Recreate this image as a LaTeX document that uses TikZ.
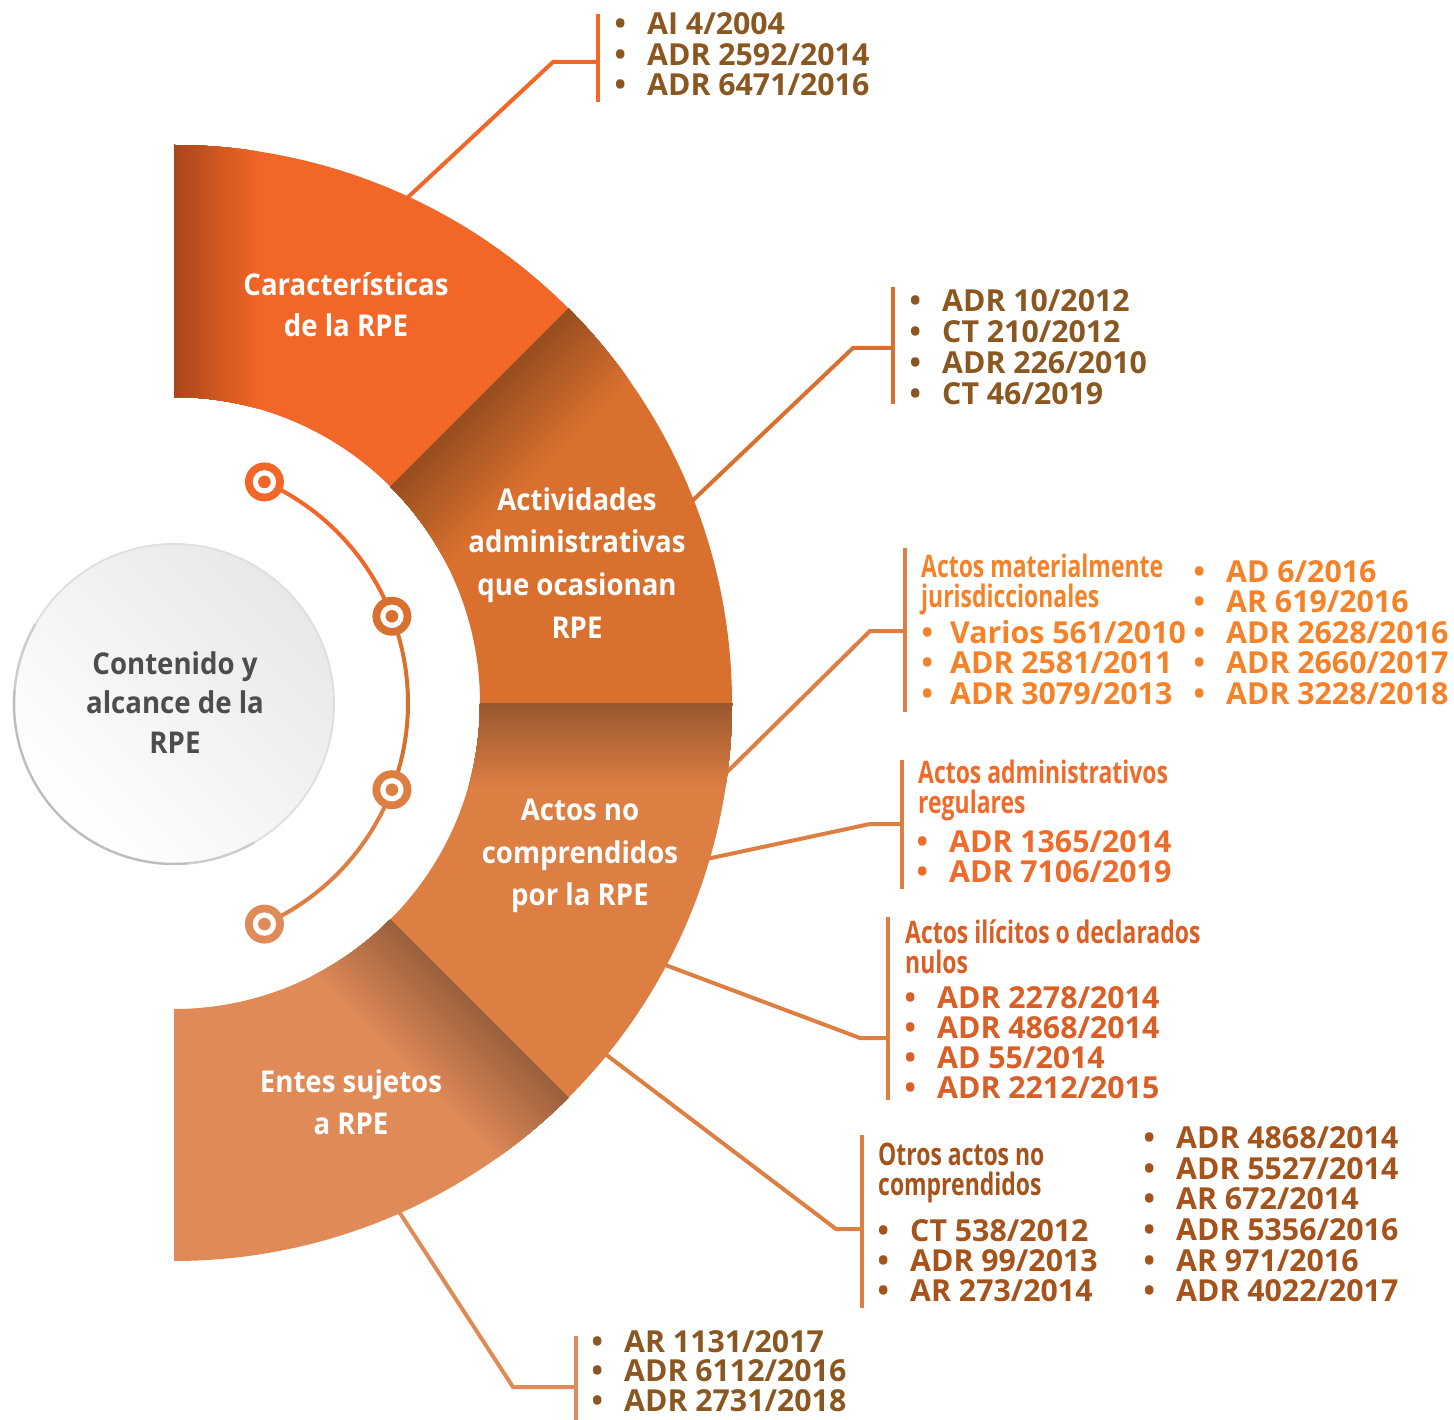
\documentclass[tikz,border=0pt]{standalone}
\usepackage{fontspec}
\setmainfont{Open Sans}
\newfontfamily\condf[FakeStretch=0.74]{Open Sans}
\newfontfamily\labf[FakeStretch=0.92]{Open Sans}
\usetikzlibrary{calc}
\definecolor{cA}{HTML}{F26627}
\definecolor{cB}{HTML}{D9702E}
\definecolor{cC}{HTML}{DD7E43}
\definecolor{cD}{HTML}{E08A58}
\definecolor{brn}{HTML}{8B5721}
\definecolor{orL}{HTML}{F58228}
\definecolor{orM}{HTML}{EE6B2B}
\definecolor{orD}{HTML}{D95F27}
\definecolor{orB}{HTML}{A5521B}
\definecolor{gtx}{HTML}{4D4D4F}
\newcommand\segpath[2]{(#1:558) arc[start angle=#1,end angle=#2,radius=558] -- (#2:306) arc[start angle=#2,end angle=#1,radius=306] -- cycle}
% #1 boundary angle, #2 inward perpendicular angle, #3 width, #4 base colour
\newcommand\shadowband[4]{%
  \foreach \k in {30,29,...,1}{%
    \pgfmathsetmacro\dd{#3*\k/30}%
    \pgfmathsetmacro\pc{100-31*(1-(\k-0.5)/30)}%
    \fill[#4!\pc!black] ($(#2:-3)$) -- ($(#1:620)+(#2:-3)$) -- ($(#1:620)+(#2:\dd)$) -- ($(#2:\dd)$) -- cycle;}}
\newcommand\itm[2][20pt]{\makebox[14pt][c]{\textbullet}\hspace{#1}#2}
\tikzset{
  lab/.style={text=white, font=\labf\bfseries\fontsize{30}{36}\selectfont, anchor=base, inner sep=0},
  ctr/.style={text=gtx, font=\labf\bfseries\fontsize{30}{36}\selectfont, anchor=base, inner sep=0},
  item/.style={anchor=base west, inner sep=0, font=\bfseries\fontsize{30.3}{31}\selectfont},
  head/.style={anchor=base west, inner sep=0, font=\condf\bfseries\fontsize{31}{31}\selectfont},
  conn/.style={line width=4pt, line join=miter},
  bar/.style={line width=4.5pt},
}
\begin{document}
\begin{tikzpicture}[x=1pt,y=1pt]
\useasboundingbox (0,0) rectangle (1454,-1420);
% ---------- connectors ----------
\coordinate (s1) at (405,-200); \coordinate (j1) at (553,-62); \coordinate (b1) at (598,-62);
\coordinate (t1) at (598,-14); \coordinate (u1) at (598,-102);
\coordinate (s2) at (690,-503); \coordinate (j2) at (853,-348); \coordinate (b2) at (893,-348);
\coordinate (t2) at (893,-287); \coordinate (u2) at (893,-404);
\coordinate (s3) at (722,-777); \coordinate (j3) at (870,-631); \coordinate (b3) at (905,-631);
\coordinate (t3) at (905,-548); \coordinate (u3) at (905,-712);
\coordinate (s4) at (702,-860); \coordinate (j4) at (870,-824); \coordinate (b4) at (902,-824);
\coordinate (t4) at (902,-760); \coordinate (u4) at (902,-889);
\coordinate (s5) at (660,-963); \coordinate (j5) at (860,-1038); \coordinate (b5) at (888,-1038);
\coordinate (t5) at (888,-917); \coordinate (u5) at (888,-1100);
\coordinate (s6) at (600,-1050); \coordinate (j6) at (836,-1229); \coordinate (b6) at (862,-1229);
\coordinate (t6) at (862,-1135); \coordinate (u6) at (862,-1308);
\coordinate (s7) at (396,-1207); \coordinate (j7) at (513,-1387); \coordinate (b7) at (576,-1387);
\coordinate (t7) at (576,-1336); \coordinate (u7) at (576,-1420);
\draw[conn, cA] (s1) -- (j1) -- (b1); \draw[bar, cA] (t1) -- (u1);
\draw[conn, cB] (s2) -- (j2) -- (b2); \draw[bar, cB] (t2) -- (u2);
\draw[conn, cC] (s3) -- (j3) -- (b3); \draw[bar, cC] (t3) -- (u3);
\draw[conn, cC] (s4) -- (j4) -- (b4); \draw[bar, cC] (t4) -- (u4);
\draw[conn, cC] (s5) -- (j5) -- (b5); \draw[bar, cC] (t5) -- (u5);
\draw[conn, cC] (s6) -- (j6) -- (b6); \draw[bar, cC] (t6) -- (u6);
\draw[conn, cD] (s7) -- (j7) -- (b7); \draw[bar, cD] (t7) -- (u7);
% ---------- ring segments ----------
\begin{scope}[shift={(174,-703)}]
  \fill[cA] \segpath{90}{45};
  \fill[cB] \segpath{45}{0};
  \fill[cC] \segpath{0}{-45};
  \fill[cD] \segpath{-45}{-90};
  \begin{scope}\clip \segpath{90}{45}; \shadowband{90}{0}{85}{cA} \end{scope}
  \begin{scope}\clip \segpath{45}{0}; \shadowband{45}{-45}{95}{cB} \end{scope}
  \begin{scope}\clip \segpath{0}{-45}; \shadowband{0}{-90}{85}{cC} \end{scope}
  \begin{scope}\clip \segpath{-45}{-90}; \shadowband{-45}{-135}{95}{cD} \end{scope}
\end{scope}
% ---------- centre circle ----------
\shade[top color=black!9, bottom color=white, shading angle=-45] (174,-704) circle[radius=160];
\draw[black!12, line width=2pt] (174,-704) circle[radius=160];
\draw[black!25, line width=2.5pt, opacity=0.6] (174,-704) ++(150:160) arc[start angle=150,end angle=300,radius=160];
\draw[black!30, line width=2pt, opacity=0.6] (174,-704) ++(175:160) arc[start angle=175,end angle=275,radius=160];
% ---------- dotted arc ----------
\coordinate (ac) at (166,-703);
\coordinate (d1) at ($(ac)+(66:242)$);
\coordinate (d2) at ($(ac)+(21:242)$);
\coordinate (d3) at ($(ac)+(-21:242)$);
\coordinate (d4) at ($(ac)+(-66:242)$);
\draw[cA, line width=4pt] (d1) arc[start angle=66,end angle=21,radius=242];
\draw[cB, line width=4pt] (d2) arc[start angle=21,end angle=-21,radius=242];
\draw[cC, line width=4pt] (d3) arc[start angle=-21,end angle=-66,radius=242];
\foreach \p/\c in {d1/cA, d2/cB, d3/cC, d4/cD}{
  \fill[\c] (\p) circle[radius=19.5];
  \fill[white] (\p) circle[radius=11.7];
  \fill[\c] (\p) circle[radius=6.3];
}
% ---------- segment labels ----------
\node[lab] (g1a) at (346,-295.7) {Características};
\node[lab] (g1b) at (346,-337) {de la RPE};
\node[lab] (g2a) at (577,-510.7) {Actividades};
\node[lab] (g2b) at (577,-552) {administrativas};
\node[lab] (g2c) at (577,-595) {que ocasionan};
\node[lab] (g2d) at (577,-638.3) {RPE};
\node[lab] (g3a) at (580,-820) {Actos no};
\node[lab] (g3b) at (580,-863.3) {comprendidos};
\node[lab] (g3c) at (580,-905.7) {por la RPE};
\node[lab] (g4a) at (351,-1092.7) {Entes sujetos};
\node[lab] (g4b) at (351,-1134.3) {a RPE};
\node[ctr] (ca) at (175,-674.3) {Contenido y};
\node[ctr] (cb) at (175,-713.3) {alcance de la};
\node[ctr] (cc) at (175,-753.3) {RPE};
% ---------- lists ----------
\foreach \t [count=\i] in {AI 4/2004, ADR 2592/2014, ADR 6471/2016}
  \node[item, text=brn] (L1-\i) at (613,{-35-30.5*(\i-1)}) {\itm{\t}};
\foreach \t [count=\i] in {ADR 10/2012, CT 210/2012, ADR 226/2010, CT 46/2019}
  \node[item, text=brn] (L2-\i) at (908,{-312-30.7*(\i-1)}) {\itm{\t}};
\node[head, text=orL] (H3a) at (921,-577) {Actos materialmente};
\node[head, text=orL] (H3b) at (921,-607) {jurisdiccionales};
\foreach \t [count=\i] in {Varios 561/2010, ADR 2581/2011, ADR 3079/2013}
  \node[item, text=orL] (L3-\i) at (920,{-643-30.5*(\i-1)}) {\itm[16pt]{\t}};
\foreach \t [count=\i] in {AD 6/2016, AR 619/2016, ADR 2628/2016, ADR 2660/2017, ADR 3228/2018}
  \node[item, text=orL] (R3-\i) at (1192,{-582-30.5*(\i-1)}) {\itm{\t}};
\node[head, text=orM] (H4a) at (918,-783) {Actos administrativos};
\node[head, text=orM] (H4b) at (918,-813) {regulares};
\foreach \t [count=\i] in {ADR 1365/2014, ADR 7106/2019}
  \node[item, text=orM] (L4-\i) at (915,{-852-30*(\i-1)}) {\itm{\t}};
\node[head, text=orD] (H5a) at (905,-943) {Actos ilícitos o declarados};
\node[head, text=orD] (H5b) at (905,-973) {nulos};
\foreach \t [count=\i] in {ADR 2278/2014, ADR 4868/2014, AD 55/2014, ADR 2212/2015}
  \node[item, text=orD] (L5-\i) at (903,{-1008-30*(\i-1)}) {\itm{\t}};
\node[head, text=orB] (H6a) at (878,-1165) {Otros actos no};
\node[head, text=orB] (H6b) at (878,-1195) {comprendidos};
\foreach \t [count=\i] in {CT 538/2012, ADR 99/2013, AR 273/2014}
  \node[item, text=orB] (L6-\i) at (876,{-1241.5-30.2*(\i-1)}) {\itm{\t}};
\foreach \t [count=\i] in {ADR 4868/2014, ADR 5527/2014, AR 672/2014, ADR 5356/2016, AR 971/2016, ADR 4022/2017}
  \node[item, text=orB] (R6-\i) at (1142,{-1148.5-30.65*(\i-1)}) {\itm{\t}};
\foreach \t [count=\i] in {AR 1131/2017, ADR 6112/2016, ADR 2731/2018}
  \node[item, text=brn] (L7-\i) at (590,{-1352-29.5*(\i-1)}) {\itm{\t}};
\end{tikzpicture}
\end{document}
